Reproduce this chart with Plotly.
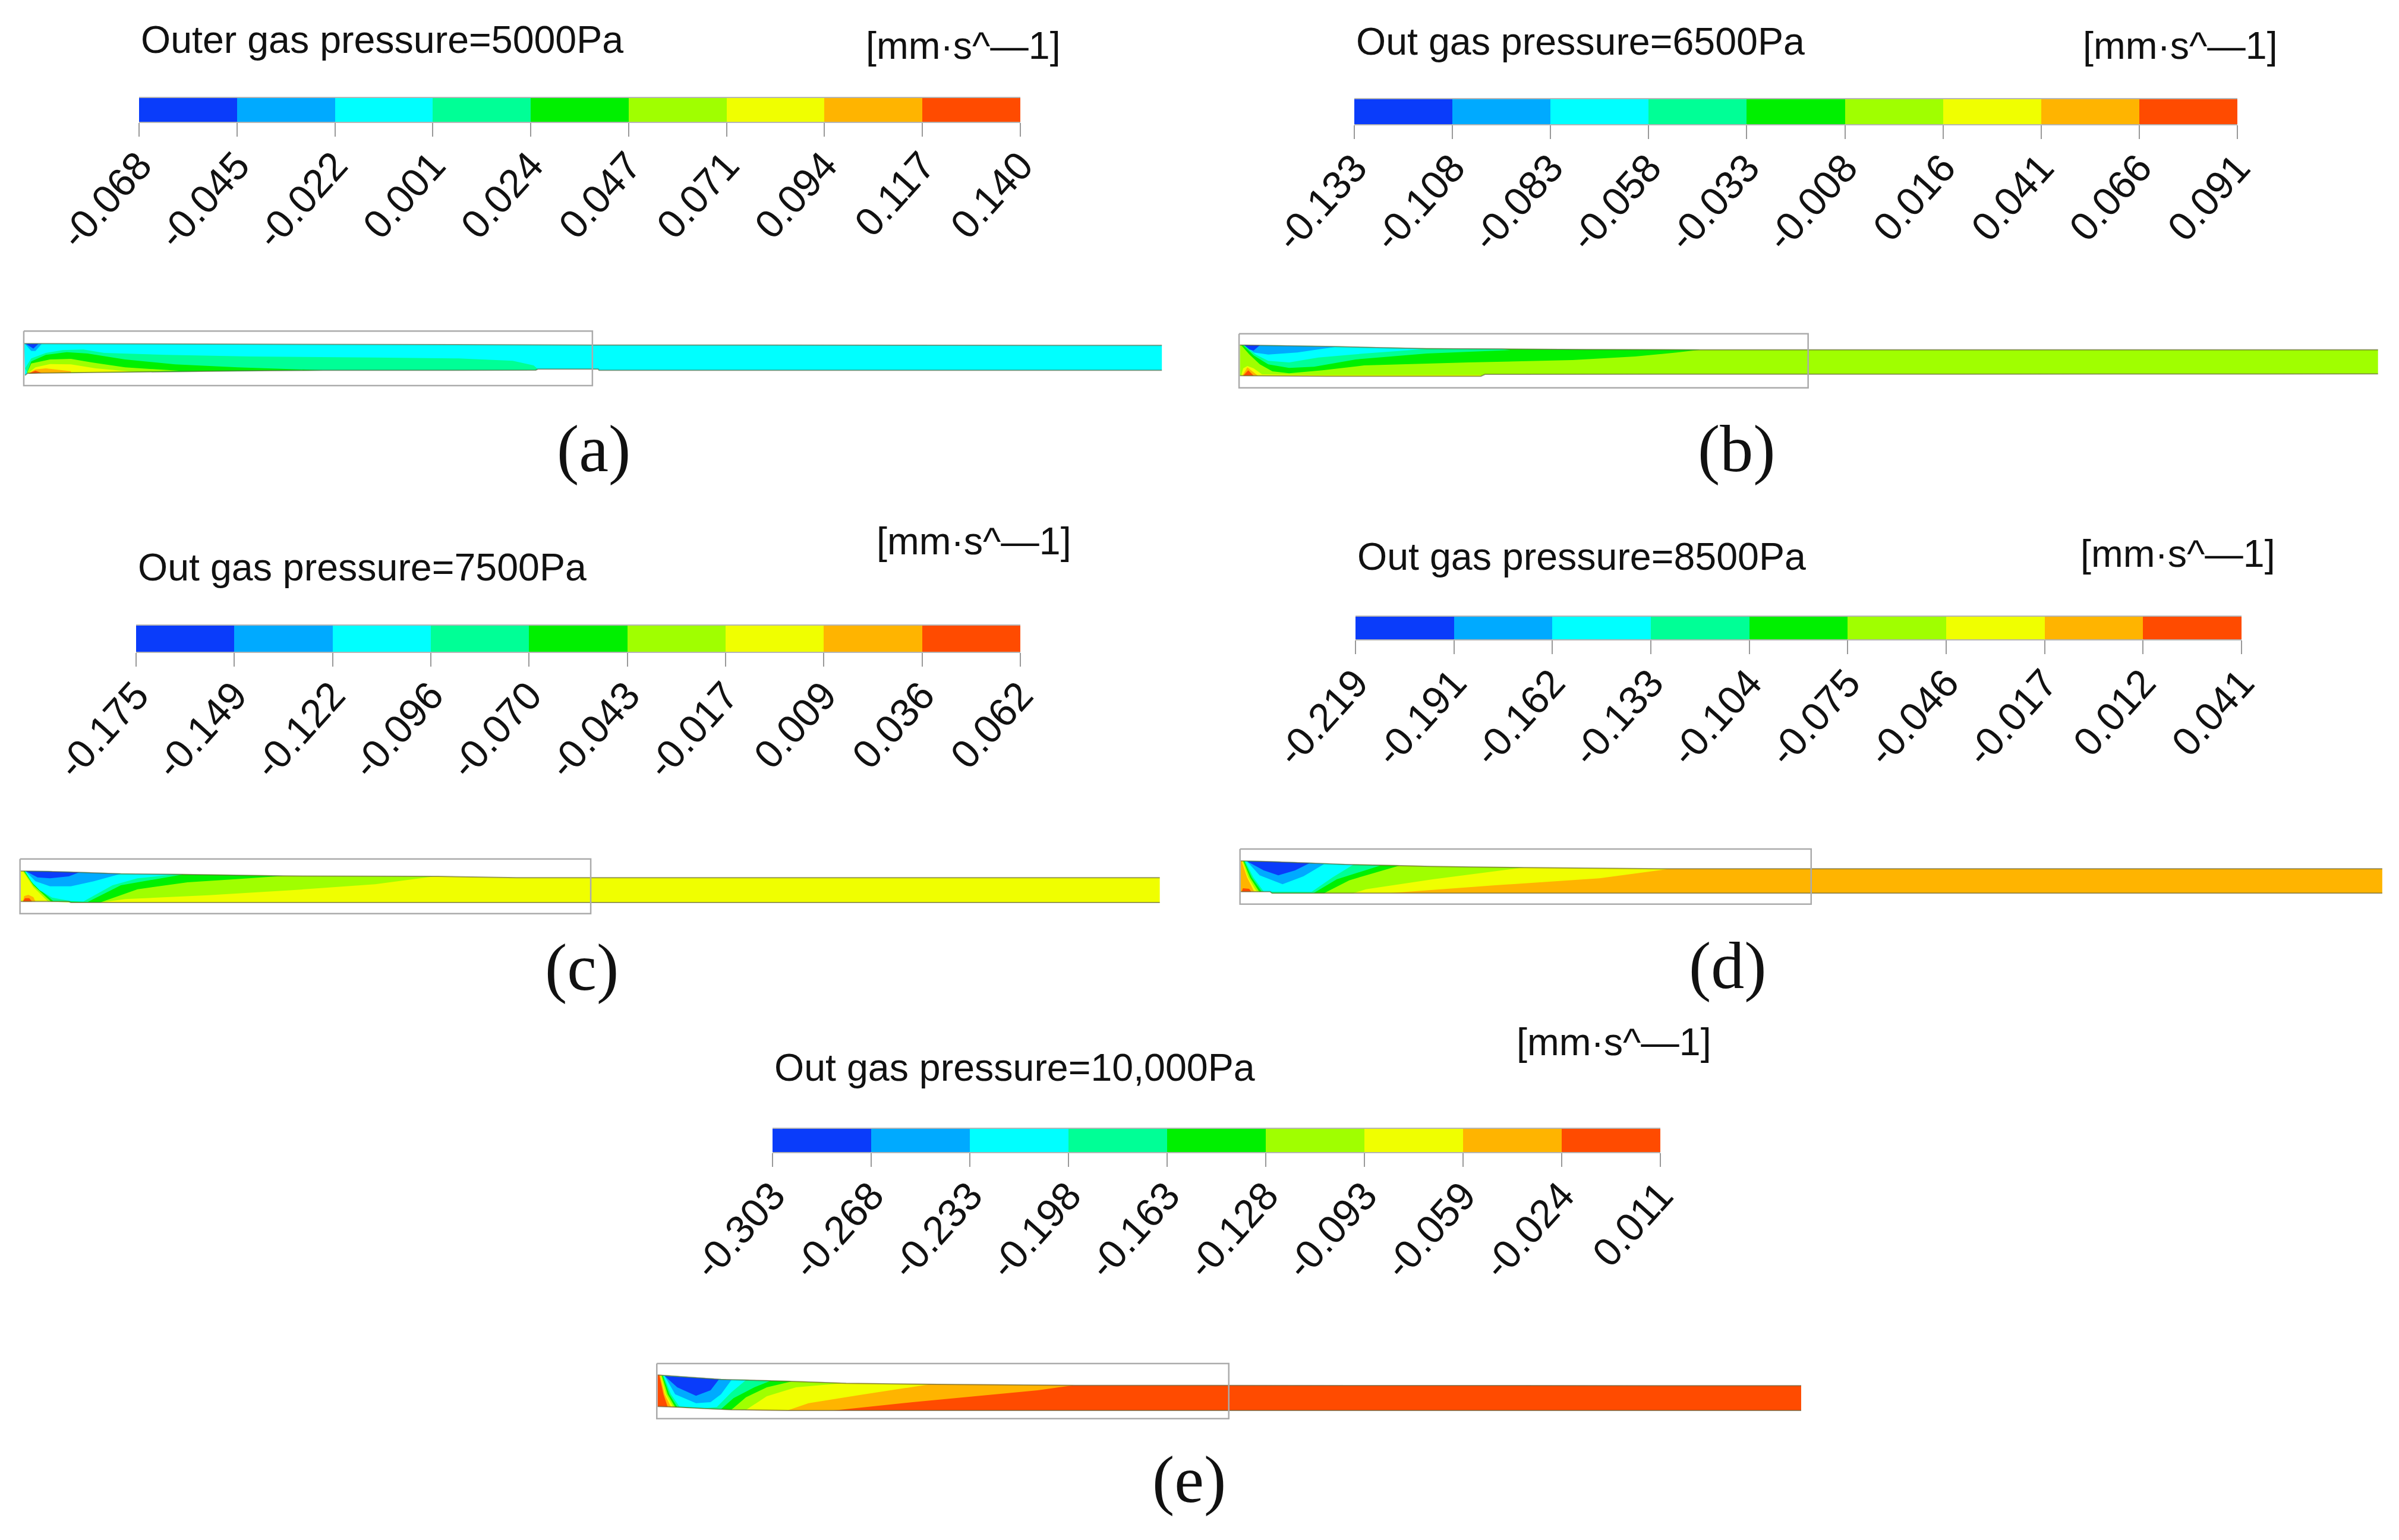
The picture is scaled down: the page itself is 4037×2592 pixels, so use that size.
import plotly.graph_objects as go

PAGE_W, PAGE_H = 4037, 2592

# ---------- colours of the nine contour bands ----------
band_colors = ["#0A3CFA", "#00AAFF", "#00FFFF", "#00FF96", "#00F000",
               "#A0FF00", "#F0FF00", "#FFB400", "#FF4B00"]

# ---------- colour scale levels ----------
levels_a = ["-0.068", "-0.045", "-0.022", "0.001", "0.024", "0.047", "0.071", "0.094", "0.117", "0.140"]
levels_b = ["-0.133", "-0.108", "-0.083", "-0.058", "-0.033", "-0.008", "0.016", "0.041", "0.066", "0.091"]
levels_c = ["-0.175", "-0.149", "-0.122", "-0.096", "-0.070", "-0.043", "-0.017", "0.009", "0.036", "0.062"]
levels_d = ["-0.219", "-0.191", "-0.162", "-0.133", "-0.104", "-0.075", "-0.046", "-0.017", "0.012", "0.041"]
levels_e = ["-0.303", "-0.268", "-0.233", "-0.198", "-0.163", "-0.128", "-0.093", "-0.059", "-0.024", "0.011"]

titles = ["Outer gas pressure=5000Pa", "Out gas pressure=6500Pa", "Out gas pressure=7500Pa",
          "Out gas pressure=8500Pa", "Out gas pressure=10,000Pa"]
units = "[mm·s^—1]"
letters = ["(a)", "(b)", "(c)", "(d)", "(e)"]

# ---------- channel outlines, (along, across) in picture units ----------
a_top = [(58, 175), (460, 177), (830, 180), (1420, 182), (2787, 184)]
a_bottom = [(60, 335), (66, 325), (170, 322), (320, 318), (570, 313), (775, 310), (1285, 309), (1290, 304), (1435, 304), (1437, 310), (2787, 310)]
b_top = [(52, 152), (145, 155), (280, 160), (380, 165), (500, 170), (680, 172), (880, 175), (1155, 176), (2782, 176)]
b_bottom = [(52, 307), (260, 310), (630, 310), (640, 300), (2782, 298)]
c_top = [(50, 138), (115, 140), (190, 145), (290, 152), (440, 155), (545, 158), (680, 163), (1050, 165), (1240, 172), (2782, 172)]
c_bottom = [(50, 292), (165, 292), (170, 297), (2782, 297)]
d_top = [(40, 117), (100, 120), (210, 128), (290, 135), (410, 140), (495, 145), (595, 148), (725, 150), (900, 153), (1075, 157), (2778, 157)]
d_bottom = [(40, 272), (110, 272), (115, 280), (2778, 280)]
e_top = [(38, 103), (190, 125), (360, 135), (490, 145), (710, 150), (930, 153), (1040, 155), (2781, 157)]
e_bottom = [(38, 262), (85, 265), (150, 272), (215, 278), (350, 282), (2781, 282)]

# ---------- contour regions: (band index, outline) painted in order ----------
a_regions = [
    (2, a_top + a_bottom[::-1]),
    (3, [(60, 300), (75, 250), (110, 222), (150, 208), (200, 205), (250, 222), (400, 232), (600, 240), (900, 245), (1100, 250), (1230, 262), (1280, 285), (1290, 304), (1285, 309), (775, 310), (570, 313), (320, 318), (170, 322), (66, 325)]),
    (4, [(65, 320), (75, 265), (110, 232), (160, 218), (210, 225), (300, 255), (420, 280), (570, 295), (775, 309), (570, 313), (320, 318), (170, 322), (66, 325)]),
    (5, [(65, 322), (75, 275), (120, 255), (170, 252), (220, 270), (300, 295), (430, 312), (320, 318), (170, 322), (66, 325)]),
    (6, [(70, 320), (85, 295), (120, 278), (170, 280), (230, 300), (320, 317), (170, 322), (66, 325)]),
    (7, [(68, 325), (85, 305), (110, 300), (170, 314), (170, 322)]),
    (8, [(68, 326), (85, 312), (100, 323)]),
    (1, [(60, 176), (100, 176), (85, 212), (75, 212)]),
    (0, [(62, 176), (92, 176), (80, 200)]),
]
b_regions = [
    (5, b_top + b_bottom[::-1]),
    (4, [(55, 153), (75, 200), (100, 250), (130, 285), (170, 295), (250, 280), (350, 255), (600, 240), (850, 228), (1000, 210), (1100, 190), (1155, 176), (880, 175), (680, 172), (500, 170), (380, 165), (280, 160), (145, 155)]),
    (3, [(60, 153), (85, 205), (120, 250), (170, 268), (230, 262), (330, 225), (500, 195), (700, 178), (680, 172), (500, 170), (380, 165), (280, 160), (145, 155)]),
    (2, [(62, 153), (90, 200), (120, 232), (170, 240), (240, 215), (350, 195), (500, 172), (380, 165), (280, 160), (145, 155)]),
    (1, [(65, 153), (85, 190), (120, 200), (190, 190), (280, 162), (145, 155)]),
    (0, [(62, 152), (100, 153), (85, 180), (75, 175)]),
    (6, [(55, 307), (60, 270), (70, 258), (85, 270), (105, 300), (250, 304), (630, 304), (630, 310), (260, 310)]),
    (7, [(58, 307), (70, 265), (95, 307)]),
    (8, [(60, 307), (72, 280), (85, 307)]),
]
c_regions = [
    (6, c_top + c_bottom[::-1]),
    (5, [(55, 139), (80, 220), (115, 292), (170, 297), (240, 297), (300, 280), (500, 260), (700, 235), (900, 205), (1040, 166), (680, 163), (545, 158), (440, 155), (290, 152), (190, 145), (115, 140)]),
    (4, [(57, 139), (80, 210), (122, 292), (165, 292), (170, 297), (240, 297), (330, 230), (450, 195), (560, 180), (680, 163), (545, 158), (440, 155), (290, 152), (190, 145), (115, 140)]),
    (3, [(59, 139), (80, 205), (128, 290), (210, 295), (290, 210), (400, 170), (440, 155), (290, 152), (190, 145), (115, 140)]),
    (2, [(60, 139), (75, 190), (95, 235), (125, 272), (170, 290), (200, 292), (270, 210), (330, 175), (420, 155), (290, 152), (190, 145), (115, 140)]),
    (1, [(62, 140), (85, 190), (120, 215), (170, 215), (225, 190), (290, 152), (190, 145), (115, 140)]),
    (0, [(62, 139), (90, 170), (120, 175), (165, 165), (190, 145), (115, 140)]),
    (7, [(55, 292), (58, 265), (68, 258), (80, 270), (85, 292)]),
    (8, [(55, 292), (60, 275), (70, 275), (77, 292)]),
]
d_regions = [
    (7, d_top + d_bottom[::-1]),
    (6, [(42, 118), (55, 200), (72, 272), (110, 272), (115, 280), (400, 279), (650, 240), (900, 205), (1070, 157), (900, 153), (725, 150), (595, 148), (495, 145), (410, 140), (290, 135), (210, 128), (100, 120)]),
    (5, [(44, 118), (58, 200), (75, 262), (80, 272), (110, 272), (115, 280), (310, 280), (340, 260), (500, 210), (720, 150), (595, 148), (495, 145), (410, 140), (290, 135), (210, 128), (100, 120)]),
    (4, [(46, 118), (62, 200), (84, 272), (110, 272), (115, 280), (240, 280), (300, 215), (420, 141), (290, 135), (210, 128), (100, 120)]),
    (3, [(48, 118), (66, 200), (90, 272), (110, 272), (115, 280), (215, 279), (270, 210), (375, 140), (290, 135), (210, 128), (100, 120)]),
    (2, [(50, 118), (70, 200), (95, 272), (110, 272), (210, 273), (260, 200), (310, 136), (210, 128), (100, 120)]),
    (1, [(55, 120), (85, 190), (140, 235), (190, 195), (240, 133), (210, 128), (100, 120)]),
    (0, [(55, 119), (95, 165), (130, 190), (170, 165), (205, 128), (100, 120)]),
    (8, [(42, 272), (45, 255), (60, 258), (65, 272)]),
]
e_regions = [
    (8, e_top + e_bottom[::-1]),
    (7, [(42, 104), (52, 200), (62, 263), (85, 265), (150, 272), (215, 278), (350, 282), (460, 282), (650, 240), (830, 205), (950, 180), (1035, 155), (930, 153), (710, 150), (490, 145), (360, 135), (190, 125)]),
    (6, [(44, 104), (55, 200), (70, 264), (85, 265), (150, 272), (215, 278), (350, 281), (400, 245), (520, 205), (690, 150), (490, 145), (360, 135), (190, 125)]),
    (5, [(46, 105), (58, 200), (75, 264), (85, 265), (150, 272), (215, 278), (250, 279), (300, 210), (370, 165), (480, 145), (360, 135), (190, 125)]),
    (4, [(48, 105), (62, 200), (80, 265), (150, 272), (215, 278), (250, 215), (300, 165), (360, 135), (190, 125)]),
    (3, [(50, 105), (66, 200), (85, 265), (150, 272), (190, 275), (220, 220), (270, 165), (310, 131), (190, 125)]),
    (2, [(52, 106), (70, 200), (90, 262), (150, 270), (180, 265), (215, 190), (250, 128), (190, 125)]),
    (1, [(55, 108), (80, 200), (130, 245), (165, 240), (190, 200), (215, 128), (190, 125)]),
    (0, [(55, 108), (85, 165), (130, 208), (165, 180), (185, 125)]),
]

# ---------- lists that tie each panel together ----------
levels_all = [levels_a, levels_b, levels_c, levels_d, levels_e]
regions_all = [a_regions, b_regions, c_regions, d_regions, e_regions]
tops_all = [a_top, b_top, c_top, d_top, e_top]
bottoms_all = [a_bottom, b_bottom, c_bottom, d_bottom, e_bottom]

# frame box round the left half of each channel (along, across)
frame_along = [(57, 1421), (50, 1415), (48, 1417), (38, 1408), (36, 1408)]
frame_across = [(112, 387), (95, 368), (77, 353), (57, 335), (45, 323)]

# layout, in page pixels
flow_origin = [(0, 520), (2050, 530), (0, 1420), (2060, 1410), (1080, 2280)]
bar_box = [(234, 1717, 165, 205), (2279, 3765, 167, 209), (229, 1717, 1053, 1097),
           (2281, 3772, 1038, 1076), (1300, 2794, 1900, 1939)]
title_pos = [(235, 67), (2280, 70), (230, 955), (2282, 937), (1301, 1797)]
units_pos = [(1455, 77), (3503, 77), (1473, 911), (3499, 932), (2550, 1754)]
letter_pos = [(999, 755), (2922, 755), (979, 1628), (2907, 1625), (2001, 2490)]

FLOW_W, FLOW_H = 1964, 160
ZOOM_X, ZOOM_Y = 1568 / 1100, 3.0

def px(x):
    return x / PAGE_W

def py(y):
    return 1 - y / PAGE_H

fig = go.Figure()
layout = {}
annots = []
axis_no = 0

for i in range(5):
    # ----- flow field -----
    axis_no += 1
    xa, ya = f"x{axis_no}", f"y{axis_no}"
    ox, oy = flow_origin[i]
    layout[f"xaxis{axis_no}"] = dict(domain=[px(ox), px(ox + FLOW_W)], range=[0, FLOW_W * ZOOM_X],
                                     visible=False, anchor=ya, fixedrange=True, automargin=False)
    layout[f"yaxis{axis_no}"] = dict(domain=[py(oy + FLOW_H), py(oy)], range=[FLOW_H * ZOOM_Y, 0],
                                     visible=False, anchor=xa, fixedrange=True, automargin=False)
    for band, outline in regions_all[i]:
        fig.add_trace(go.Scatter(
            x=[p[0] for p in outline] + [outline[0][0]],
            y=[p[1] for p in outline] + [outline[0][1]],
            mode="lines", fill="toself", fillcolor=band_colors[band],
            line=dict(width=0), xaxis=xa, yaxis=ya, showlegend=False, hoverinfo="skip"))
    for edge in (tops_all[i], bottoms_all[i]):
        fig.add_trace(go.Scatter(
            x=[p[0] for p in edge], y=[p[1] for p in edge], mode="lines",
            line=dict(width=2, color="rgba(90,90,50,0.6)"),
            xaxis=xa, yaxis=ya, showlegend=False, hoverinfo="skip"))
    fx0, fx1 = frame_along[i]
    fy0, fy1 = frame_across[i]
    fig.add_trace(go.Scatter(
        x=[fx0, fx1, fx1, fx0, fx0], y=[fy0, fy0, fy1, fy1, fy0], mode="lines",
        line=dict(width=2.5, color="#ABABAB"),
        xaxis=xa, yaxis=ya, showlegend=False, hoverinfo="skip"))

    # ----- colour scale: equal-width bands, one label per band edge -----
    axis_no += 1
    xa, ya = f"x{axis_no}", f"y{axis_no}"
    labels = levels_all[i]
    edges = list(range(len(labels)))
    x0, x1, y0, y1 = bar_box[i]
    layout[f"xaxis{axis_no}"] = dict(
        domain=[px(x0), px(x1)], range=[edges[0], edges[-1]], anchor=ya, fixedrange=True, automargin=False,
        tickmode="array", tickvals=edges, ticktext=labels, tickangle=-48,
        ticks="outside", ticklen=23, tickwidth=1.5, tickcolor="#999999",
        ticklabelstandoff=-18, showgrid=False, zeroline=False,
        showline=True, mirror=True, linecolor="rgba(90,90,90,0.45)", linewidth=2,
        tickfont=dict(family="Liberation Sans", size=67, color="#111111"))
    layout[f"yaxis{axis_no}"] = dict(domain=[py(y1), py(y0)], range=[-0.5, 0.5], visible=False,
                                     anchor=xa, fixedrange=True, automargin=False)
    fig.add_trace(go.Bar(
        y=[0] * 9, x=[1] * 9, base=edges[:-1],
        orientation="h", width=1, marker=dict(color=band_colors, line=dict(width=0)),
        xaxis=xa, yaxis=ya, showlegend=False, hoverinfo="skip"))

    # ----- texts -----
    font = dict(family="Liberation Sans", size=64.5, color="#111111")
    annots.append(dict(text=titles[i], x=px(title_pos[i][0]), y=py(title_pos[i][1]), xref="paper", yref="paper",
                       xanchor="left", yanchor="middle", showarrow=False, font=font))
    annots.append(dict(text=units, x=px(units_pos[i][0]), y=py(units_pos[i][1]), xref="paper", yref="paper",
                       xanchor="left", yanchor="middle", showarrow=False, font=font))
    annots.append(dict(text=letters[i], x=px(letter_pos[i][0]), y=py(letter_pos[i][1]), xref="paper", yref="paper",
                       xanchor="center", yanchor="middle", showarrow=False,
                       font=dict(family="Liberation Serif", size=112, color="#111111")))

fig.update_layout(width=PAGE_W, height=PAGE_H, autosize=False,
                  margin=dict(l=0, r=0, t=0, b=0, pad=0, autoexpand=False),
                  paper_bgcolor="white", plot_bgcolor="rgba(0,0,0,0)",
                  barmode="overlay", bargap=0, showlegend=False,
                  annotations=annots, **layout)
fig.write_html("out.html", post_script="document.body.style.margin='0';",
               config={"displayModeBar": False})
